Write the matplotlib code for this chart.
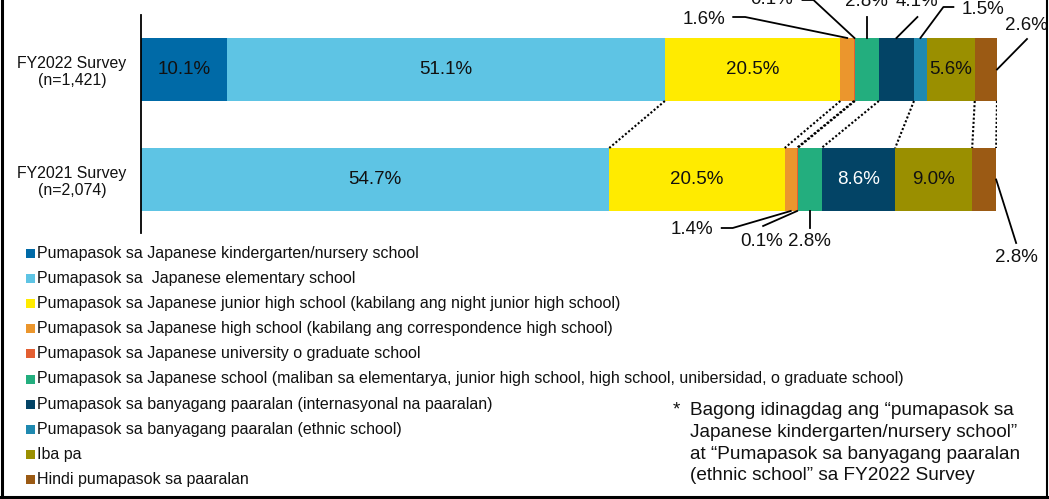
import matplotlib.pyplot as plt
import numpy as np
from matplotlib.lines import Line2D
from matplotlib.patches import Rectangle

plt.rcParams['font.family'] = ['Liberation Sans', 'DejaVu Sans']

categories = [
    'Pumapasok sa Japanese kindergarten/nursery school',
    'Pumapasok sa  Japanese elementary school',
    'Pumapasok sa Japanese junior high school (kabilang ang night junior high school)',
    'Pumapasok sa Japanese high school (kabilang ang correspondence high school)',
    'Pumapasok sa Japanese university o graduate school',
    'Pumapasok sa Japanese school (maliban sa elementarya, junior high school, high school, unibersidad, o graduate school)',
    'Pumapasok sa banyagang paaralan (internasyonal na paaralan)',
    'Pumapasok sa banyagang paaralan (ethnic school)',
    'Iba pa',
    'Hindi pumapasok sa paaralan',
]
colors = ['#006aa7', '#5ec4e4', '#ffeb00', '#eb962d', '#e35f32',
          '#23ae7e', '#034466', '#1f89b0', '#9a8f00', '#9b5a14']

survey_labels = ['FY2022 Survey\n(n=1,421)', 'FY2021 Survey\n(n=2,074)']
fy2022 = [10.1, 51.1, 20.5, 1.6, 0.1, 2.8, 4.1, 1.5, 5.6, 2.6]
fy2021 = [0, 54.7, 20.5, 1.4, 0.1, 2.8, 8.6, 0, 9.0, 2.8]
data = [fy2022, fy2021]

note = ('Bagong idinagdag ang \u201cpumapasok sa\n'
        'Japanese kindergarten/nursery school\u201d\n'
        'at \u201cPumapasok sa banyagang paaralan\n'
        '(ethnic school\u201d sa FY2022 Survey')

W, H = 1049, 499
fig = plt.figure(figsize=(W / 100, H / 100), dpi=100)
# axes from x=141..997 px (0..100 %), y=15..233 px
ax = fig.add_axes([141 / W, (H - 233) / H, (997 - 141) / W, (233 - 15) / H])
ax.set_xlim(0, 100)
PX_PER_UNIT = 110.0  # pixels between bar centres
y_top = (15 - 69.5) / PX_PER_UNIT
y_bot = (233 - 69.5) / PX_PER_UNIT
ax.set_ylim(y_bot, y_top)
bar_h = 63 / PX_PER_UNIT
XPX = (997 - 141) / 100.0
LBL = 13.5

def dx(px):
    return px / XPX

def dy(px):
    return px / PX_PER_UNIT

starts = []
for r, vals in enumerate(data):
    left = np.concatenate([[0], np.cumsum(vals)[:-1]])
    starts.append(left)
    for i, v in enumerate(vals):
        if v <= 0:
            continue
        ax.barh(r, v, left=left[i], height=bar_h, color=colors[i], edgecolor='none')
        if v >= 5:
            tc = 'white' if i == 6 else '#111111'
            ax.text(left[i] + v / 2, r, '{:.1f}%'.format(v), ha='center', va='center',
                    fontsize=LBL, color=tc)

# dotted connectors between bars
ends0 = np.cumsum(fy2022)
ends1 = np.cumsum(fy2021)
for i in range(len(categories)):
    if fy2021[i] <= 0:
        continue
    ax.plot([ends0[i], ends1[i]], [bar_h / 2, 1 - bar_h / 2], color='black',
            linestyle=(0, (1, 1)), lw=1.5, solid_capstyle='butt')

# leader labels: (row, category, anchor side, elbow offsets px, text offset px)
leaders = [
    (0, 3, 'edge', [(-102, -21), (-114, -21)], (-143, -18)),
    (0, 4, 'edge', [(-41, -38), (-52, -38)], (-83, -38)),
    (0, 5, 'edge', [(0, -21)], (0, -37)),
    (0, 6, 'edge', [(21, -21)], (21, -36)),
    (0, 7, 'edge', [(23, -31), (33, -31)], (63, -28)),
    (0, 9, 'end', [(30, -30.5)], (29, -44.5)),
    (1, 3, 'edge', [(-58, 17), (-69, 17)], (-99, 18)),
    (1, 4, 'edge', [(-34, 15)], (-35, 30)),
    (1, 5, 'edge', [(0, 17)], (0, 30)),
    (1, 9, 'end', [(20, 63.5)], (20, 77.5)),
]
for r, i, side, pts, toff in leaders:
    v = data[r][i]
    if side == 'end':
        ax0, ay0 = starts[r][i] + v, r
    else:
        ax0 = starts[r][i] + v / 2
        ay0 = r - bar_h / 2 if r == 0 else r + bar_h / 2
    xs = [ax0] + [ax0 + dx(p[0]) for p in pts]
    ys = [ay0] + [ay0 + dy(p[1]) for p in pts]
    ax.plot(xs, ys, color='black', lw=1.3, clip_on=False)
    ax.text(ax0 + dx(toff[0]), ay0 + dy(toff[1]), '{:.1f}%'.format(v),
            ha='center', va='center', fontsize=LBL, color='#111111', clip_on=False)

ax.set_yticks([0, 1])
ax.set_yticklabels(survey_labels, fontsize=11.4, ha='center', multialignment='center',
                   color='#111111')
ax.tick_params(axis='y', length=0, pad=69 * 0.72)
ax.set_xticks([])
for s in ['top', 'right', 'bottom']:
    ax.spines[s].set_visible(False)
ax.spines['left'].set_linewidth(1.3)
ax.spines['left'].set_color('black')

# legend
for k, (lab, col) in enumerate(zip(categories, colors)):
    cy = 253.5 + k * 25.1
    fig.add_artist(Rectangle((26 / W, (H - cy - 4.5) / H), 9 / W, 9 / H,
                             transform=fig.transFigure, color=col, lw=0))
    fig.text(37 / W, (H - cy) / H, lab, fontsize=11.5, va='center', ha='left', color='#111111')

# footnote
fig.text(676 / W, (H - 410) / H, '*', fontsize=13.7, va='center', ha='center', color='#111111')
fig.text(690 / W, (H - 402) / H, note, fontsize=13.7, va='top', ha='left', linespacing=1.37,
         color='#111111')

# frame
fig.add_artist(Line2D([1.5 / W, 1.5 / W], [0, 1], color='black', lw=2.2, transform=fig.transFigure))
fig.add_artist(Line2D([0, 1], [2 / H, 2 / H], color='black', lw=2.2, transform=fig.transFigure))
fig.add_artist(Line2D([1046.5 / W, 1046.5 / W], [0, 1], color='black', lw=1.5, transform=fig.transFigure))

fig.savefig('out.png', dpi=100)
